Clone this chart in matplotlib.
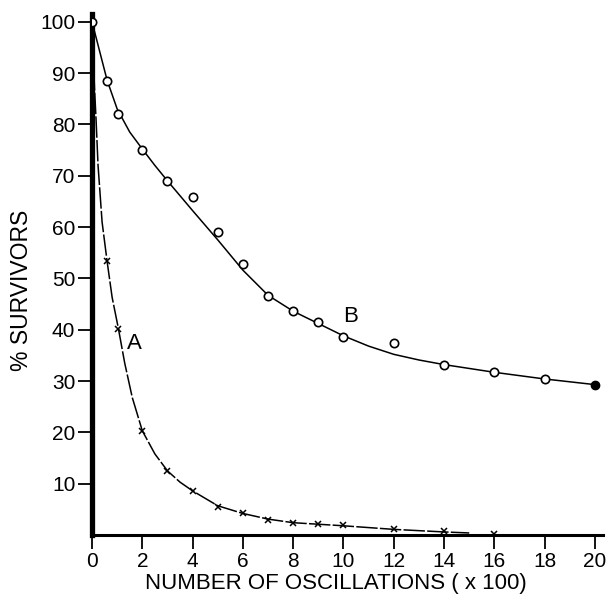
import matplotlib
matplotlib.use("Agg")
import matplotlib.pyplot as plt

# Кривая B: измеренные точки (кружки)
b_x = [0, 0.6, 1.05, 2, 3, 4, 5, 6, 7, 8, 9, 10, 12, 14, 16, 18, 20]
b_y = [100, 88.5, 82, 75, 69, 65.8, 59.1, 52.8, 46.6, 43.6, 41.5, 38.6,
       37.4, 33.2, 31.7, 30.4, 29.2]

# Кривая B: сглаженная линия
b_line_x = [0, 0.3, 0.6, 1.0, 1.5, 2, 2.5, 3, 4, 5, 6, 7, 8, 9, 10, 11, 12,
            13, 14, 16, 18, 20]
b_line_y = [100, 94.3, 88.6, 83.0, 78.5, 75.2, 72.0, 69.0, 63.2, 57.5,
            51.6, 46.7, 43.6, 41.2, 38.8, 36.8, 35.2, 34.1, 33.2, 31.7,
            30.4, 29.3]

# Кривая A: измеренные точки (крестики)
a_x = [0.6, 1.05, 2, 3, 4, 5, 6, 7, 8, 9, 10, 12, 14, 16]
a_y = [53.3, 40.2, 20.3, 12.5, 8.6, 5.5, 4.2, 3.0, 2.3, 2.1, 1.9, 1.1, 0.8,
       0.2]

# Кривая A: линия
a_line_x = [0, 0.05, 0.1, 0.16, 0.24, 0.4, 0.6, 0.8, 1.05, 1.3, 1.6, 2,
            2.5, 3, 3.5, 4, 5, 6, 7, 8, 9, 10, 12, 14, 15]
a_line_y = [100, 93, 87, 81, 72, 61, 53.3, 46.3, 40.2, 33.5, 26.8, 20.3,
            15.8, 12.5, 10.3, 8.6, 5.7, 4.2, 3.1, 2.4, 2.1, 1.8, 1.1, 0.6,
            0.4]

x_ticks = list(range(0, 21, 2))
y_ticks = list(range(10, 101, 10))

plt.rcParams["font.family"] = ["Liberation Sans", "DejaVu Sans"]

fig = plt.figure(figsize=(6.11, 6.04), dpi=100)
ax = fig.add_axes([0.1506, 0.1142, 0.8355, 0.8626])

ax.plot(b_line_x, b_line_y, color="black", lw=1.1, zorder=2)
ax.plot(b_x[:-1], b_y[:-1], "o", ms=6, mfc="white", mec="black", mew=1.2,
        zorder=3)
ax.plot(b_x[-1:], b_y[-1:], "o", ms=6, mfc="black", mec="black", zorder=3)

ax.plot(a_line_x, a_line_y, color="black", lw=1.1, dashes=(14, 1.5), zorder=2)
ax.plot(a_x, a_y, "x", ms=4.5, color="black", mew=1.1, zorder=3)

ax.text(1.7, 37.4, "A", fontsize=16, ha="center", va="center")
ax.text(10.3, 42.5, "B", fontsize=16, ha="center", va="center")

ax.set_xlim(0, 20.3)
ax.set_ylim(0, 101.5)
ax.set_xticks(x_ticks)
ax.set_yticks(y_ticks)

for side in ("top", "right"):
    ax.spines[side].set_visible(False)
ax.spines["left"].set_linewidth(3.8)
ax.spines["bottom"].set_linewidth(2.2)

ax.tick_params(axis="both", direction="out", length=10, width=1.3,
               labelsize=15, color="black")
ax.tick_params(axis="y", pad=2)
ax.tick_params(axis="x", pad=2)

ax.set_xlabel("NUMBER OF OSCILLATIONS ( x 100)", fontsize=16, labelpad=2)
ax.set_ylabel("% SURVIVORS", fontsize=16.5, labelpad=5)
ax.xaxis.label.set_x(0.477)
ax.yaxis.label.set_y(0.47)

fig.savefig("out.png", dpi=100)
